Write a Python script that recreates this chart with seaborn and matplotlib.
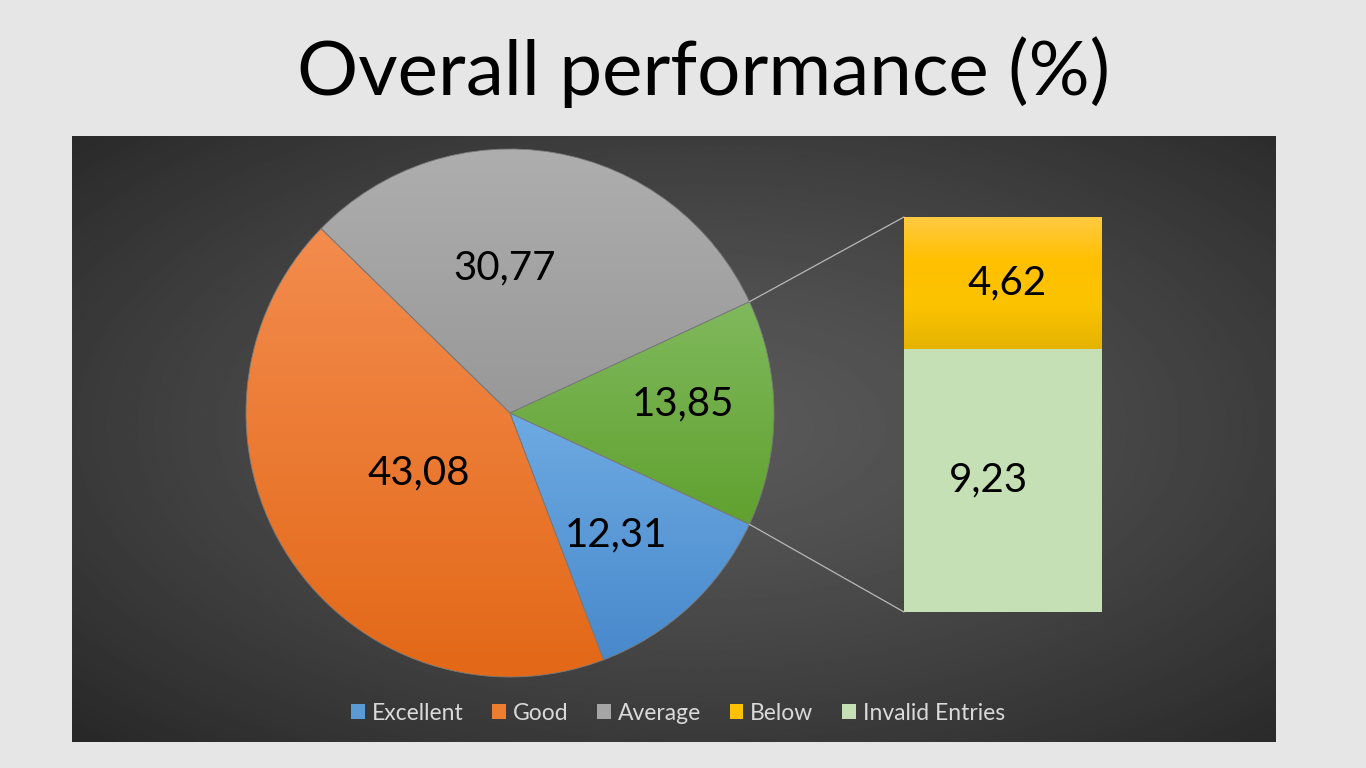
import numpy as np
import matplotlib
matplotlib.use('Agg')
import matplotlib.pyplot as plt
import seaborn as sns
from matplotlib.patches import ConnectionPatch, Patch
from matplotlib.colors import LinearSegmentedColormap

# data (pie goes counterclockwise starting with the split-off "Other" slice)
pie_names = ['Other', 'Average', 'Good', 'Excellent']
pie_values = [13.85, 30.77, 43.08, 12.31]
pie_text = ['13,85', '30,77', '43,08', '12,31']
bar_names = ['Invalid Entries', 'Below']
bar_values = [9.23, 4.62]
bar_text = ['9,23', '4,62']
legend_names = ['Excellent', 'Good', 'Average', 'Below', 'Invalid Entries']

# gradient colours (top, bottom)
grad = {
    'Excellent': ('#6eaae2', '#4889cc'),
    'Good': ('#f38c4e', '#e36817'),
    'Average': ('#aeaeae', '#989898'),
    'Other': ('#80b95d', '#60a12f'),
    'Below': ('#ffc93f', '#e5b100'),
    'Invalid Entries': ('#c5e0b4', '#c5e0b4'),
}
legend_colors = {
    'Excellent': '#5b9bd5', 'Good': '#ed7d31', 'Average': '#a5a5a5',
    'Below': '#ffc000', 'Invalid Entries': '#c5e0b4',
}

W, H = 1366, 768
sns.set_theme(style='white')
plt.rcParams['font.family'] = ['Lato', 'DejaVu Sans']

fig = plt.figure(figsize=(W / 100, H / 100), dpi=100)
fig.patch.set_facecolor('#e6e6e6')


def px_axes(x0, y0, x1, y1):
    return fig.add_axes([x0 / W, 1 - y1 / H, (x1 - x0) / W, (y1 - y0) / H])


def vgrad(top, bottom):
    return LinearSegmentedColormap.from_list('g', [bottom, top])


# dark panel with radial shading
ax_bg = px_axes(72, 136, 1276, 742)
yy, xx = np.mgrid[0:1:300j, 0:1:600j]
d = np.sqrt(((xx - 0.52) / 0.75) ** 2 + ((yy - 0.52) / 0.75) ** 2)
shade = np.clip(0.35 - 0.2 * d ** 1.3, 0, 1)
ax_bg.imshow(shade, cmap='gray', vmin=0, vmax=1, aspect='auto',
             extent=(0, 1, 0, 1), origin='lower')
ax_bg.set_axis_off()

# pie
ax_pie = px_axes(246, 149, 774, 677)
start = -360 * pie_values[0] / 100 / 2
wedges, _ = ax_pie.pie(pie_values, startangle=start, counterclock=True,
                       colors=[grad[n][0] for n in pie_names],
                       wedgeprops=dict(edgecolor='#7a7a7a', linewidth=0.6))
for w, n in zip(wedges, pie_names):
    ext = w.get_path().get_extents()
    img = ax_pie.imshow(np.linspace(0, 1, 256).reshape(-1, 1),
                        cmap=vgrad(*grad[n]), aspect='auto', origin='lower',
                        extent=(ext.x0, ext.x1, ext.y0, ext.y1), zorder=w.get_zorder())
    img.set_clip_path(w)
    w.set_facecolor('none')
    w.set_zorder(w.get_zorder() + 0.1)

label_r = [0.655, 0.55, 0.413, 0.612]
label_shift = [3, 12, 0, -2]
for w, t, r, s in zip(wedges, pie_text, label_r, label_shift):
    a = np.deg2rad((w.theta1 + w.theta2) / 2 + s)
    ax_pie.text(r * np.cos(a), r * np.sin(a), t, ha='center', va='center',
                fontsize=29, color='black', zorder=5)
ax_pie.set_xlim(-1, 1)
ax_pie.set_ylim(-1, 1)
ax_pie.set_axis_off()

# stacked bar for the split slice
total = sum(bar_values)
ax_bar = px_axes(904, 217, 1102, 612)
sns.barplot(x=['Other'], y=[total], color=grad['Below'][0], width=1,
            saturation=1, linewidth=0, ax=ax_bar)
sns.barplot(x=['Other'], y=[bar_values[0]], color=grad['Invalid Entries'][0],
            width=1, saturation=1, linewidth=0, ax=ax_bar)
top_bar = ax_bar.patches[0]
ax_bar.imshow(np.linspace(0, 1, 256).reshape(-1, 1),
              cmap=LinearSegmentedColormap.from_list('b', ['#e5b300', '#fbc300', '#ffc000', '#ffca42']),
              aspect='auto', origin='lower',
              extent=(top_bar.get_x(), top_bar.get_x() + top_bar.get_width(),
                      bar_values[0], total), zorder=top_bar.get_zorder() + 0.05)
ax_bar.patches[1].set_zorder(top_bar.get_zorder() + 0.1)
ax_bar.text(-0.075, bar_values[0] / 2, bar_text[0], ha='center', va='center',
            fontsize=29, color='black', zorder=5)
ax_bar.text(0.02, bar_values[0] + bar_values[1] / 2, bar_text[1], ha='center',
            va='center', fontsize=29, color='black', zorder=5)
ax_bar.set_xlim(-0.5, 0.5)
ax_bar.set_ylim(0, total)
ax_bar.set_axis_off()

# connector lines from the split slice to the bar
half = np.deg2rad(360 * pie_values[0] / 100 / 2)
for sign, yb in [(1, total), (-1, 0)]:
    con = ConnectionPatch(xyA=(np.cos(half), sign * np.sin(half)), coordsA=ax_pie.transData,
                          xyB=(-0.5, yb), coordsB=ax_bar.transData,
                          color='#b8b8b8', linewidth=0.9)
    fig.add_artist(con)

# legend
handles = [Patch(facecolor=legend_colors[n], edgecolor='none') for n in legend_names]
leg = fig.legend(handles, legend_names, loc='center', bbox_to_anchor=(678 / W, 1 - 713 / H),
                 ncol=5, frameon=False, fontsize=16.5, handlelength=0.6, handleheight=0.6,
                 handletextpad=0.3, columnspacing=1.25, labelcolor='#d9d9d9')

# title
fig.text(704 / W, 1 - 95 / H, 'Overall performance (%)', ha='center', va='baseline',
         fontsize=55, color='black')

fig.savefig('out.png', dpi=100, facecolor=fig.get_facecolor())
